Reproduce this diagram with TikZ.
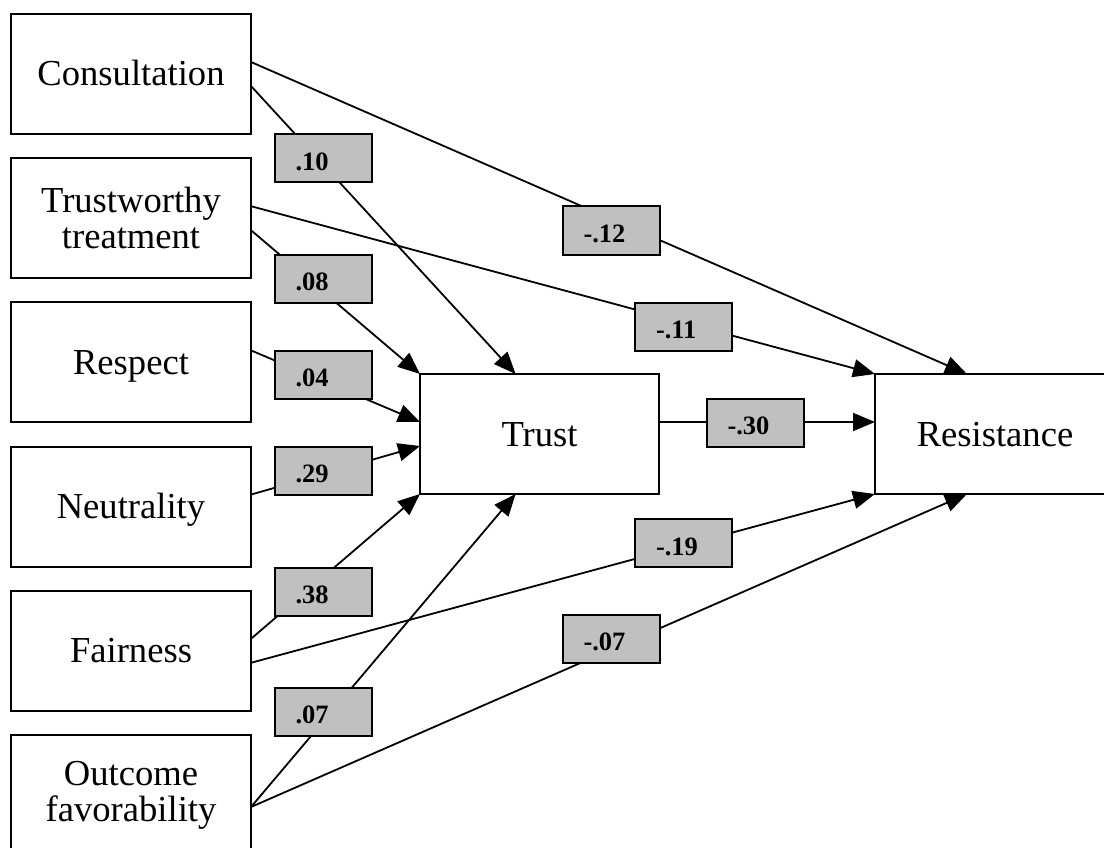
\documentclass[tikz,border=0pt]{standalone}
\usepackage{fontspec}
\setmainfont{Liberation Serif}
\usetikzlibrary{arrows.meta,calc}
\definecolor{lblgray}{HTML}{C0C0C0}
\begin{document}
\begin{tikzpicture}[x=1pt,y=-1pt,
  box/.style={draw, line width=2pt, inner sep=0pt, outer sep=0pt,
    minimum width=240pt, minimum height=120pt, align=center,
    font=\fontsize{36.6}{36}\selectfont},
  onebox/.style={box, text height=24pt, text depth=0pt},
  coef/.style={draw, fill=lblgray, line width=2pt, outer sep=0pt,
    inner ysep=0pt, inner xsep=21pt, text width=55pt, align=left,
    minimum height=48pt, text height=24pt, text depth=0pt,
    font=\fontsize{26.5}{26}\selectfont\bfseries},
  conn/.style={line width=1.8pt, -{Triangle[length=22pt,width=18pt]}}
]
\useasboundingbox (0,0) rectangle (1104,848);
\fill[white] (0,0) rectangle (1104,848);
\clip (0,0) rectangle (1104,848);

% left boxes
\node[onebox] (cons) at (131,74) {Consultation};
\node[box] (trw) at (131,218.2) {Trustworthy\\treatment};
\node[onebox] (resp) at (131,362.4) {Respect};
\node[onebox] (neut) at (131,506.6) {Neutrality};
\node[onebox] (fair) at (131,650.8) {Fairness};
\node[box] (outc) at (131,795) {Outcome\\favorability};

% central and right boxes
\node[onebox, minimum width=239pt] (trust) at (539.5,434) {Trust};
\node[onebox] (resist) at (995,434) {Resistance};

% connectors
\draw[conn] ($(cons.north east)!0.4!(cons.south east)$) -- ($(resist.north west)!0.383!(resist.north east)$);
\draw[conn] ($(cons.north east)!0.6!(cons.south east)$) -- ($(trust.north west)!0.4!(trust.north east)$);
\draw[conn] ($(trw.north east)!0.4!(trw.south east)$) -- (resist.north west);
\draw[conn] ($(trw.north east)!0.6!(trw.south east)$) -- (trust.north west);
\draw[conn] ($(resp.north east)!0.4!(resp.south east)$) -- ($(trust.north west)!0.4!(trust.south west)$);
\draw[conn] ($(neut.north east)!0.4!(neut.south east)$) -- ($(trust.north west)!0.6!(trust.south west)$);
\draw[conn] ($(fair.north east)!0.4!(fair.south east)$) -- (trust.south west);
\draw[conn] ($(fair.north east)!0.6!(fair.south east)$) -- (resist.south west);
\draw[conn] ($(outc.north east)!0.6!(outc.south east)$) -- ($(trust.south west)!0.4!(trust.south east)$);
\draw[conn] ($(outc.north east)!0.6!(outc.south east)$) -- ($(resist.south west)!0.383!(resist.south east)$);
\draw[conn] ($(trust.north east)!0.4!(trust.south east)$) -- ($(resist.north west)!0.4!(resist.south west)$);

% coefficient labels
\node[coef] (l10) at (323,158.5) {.10};
\node[coef] (l08) at (323,278.5) {.08};
\node[coef] (l04) at (323,374.5) {.04};
\node[coef] (l29) at (323,470.5) {.29};
\node[coef] (l38) at (323,591.5) {.38};
\node[coef] (l07) at (323,711.5) {.07};
\node[coef] (lm12) at (611,230.5) {-.12};
\node[coef] (lm11) at (683.5,326.5) {-.11};
\node[coef] (lm30) at (755,422.5) {-.30};
\node[coef] (lm19) at (683.5,543) {-.19};
\node[coef] (lm07) at (611,638.5) {-.07};
\end{tikzpicture}
\end{document}
